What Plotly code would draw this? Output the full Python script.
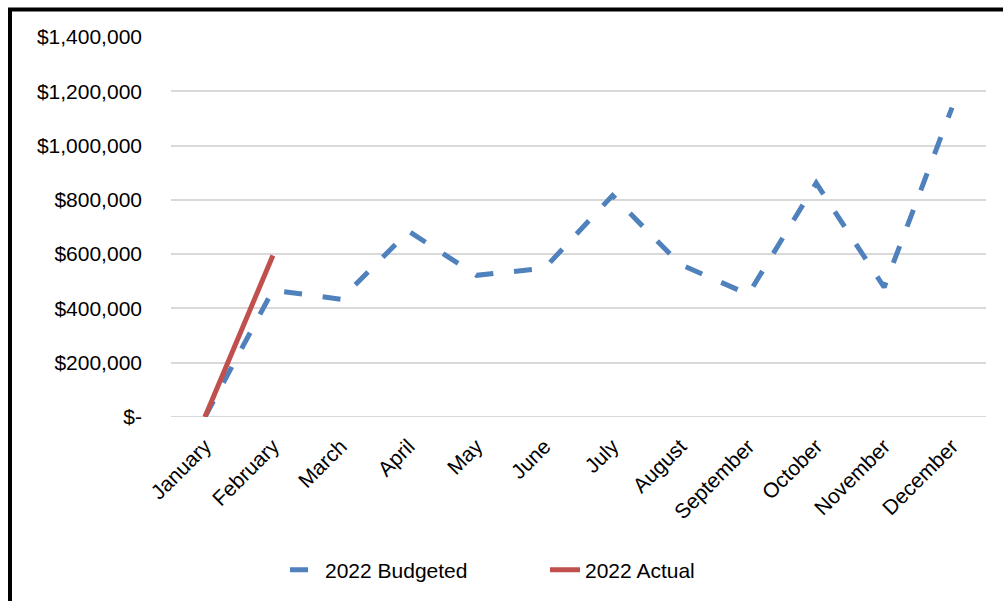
import plotly.graph_objects as go

months = ["January", "February", "March", "April", "May", "June", "July",
          "August", "September", "October", "November", "December"]
budgeted = [0, 467000, 434000, 684000, 522000, 548000, 816000,
            562000, 452000, 862000, 478000, 1140000]
actual_months = ["January", "February"]
actual = [0, 595000]

y_tickvals = [0, 200000, 400000, 600000, 800000, 1000000, 1200000, 1400000]
y_ticktext = ["$-", "$200,000", "$400,000", "$600,000", "$800,000",
              "$1,000,000", "$1,200,000", "$1,400,000"]

FONT = "Liberation Sans"
FS = 21

fig = go.Figure()
fig.add_trace(go.Scatter(
    x=months, y=budgeted, mode="lines", name="2022 Budgeted",
    line=dict(color="#4F81BD", width=5, dash="18px,20.8px"),
    cliponaxis=False,
))
fig.add_trace(go.Scatter(
    x=actual_months, y=actual, mode="lines", name="2022 Actual",
    line=dict(color="#C0504D", width=5),
    cliponaxis=False,
))

W, H = 1003, 601
L, R, T, B = 171, 17, 37, 183
pw = W - L - R
ph = H - T - B

def px2x(px):
    return (px - L) / pw

def px2y(py):
    return (H - B - py) / ph

fig.update_layout(
    width=W, height=H,
    margin=dict(l=L, r=R, t=T, b=B),
    paper_bgcolor="white", plot_bgcolor="white",
    font=dict(family=FONT, size=FS, color="black"),
    showlegend=True,
    legend=dict(orientation="h", x=px2x(545), xanchor="center",
                y=px2y(570), yanchor="middle",
                font=dict(family=FONT, size=FS, color="black"),
                entrywidth=215, entrywidthmode="pixels",
                tracegroupgap=0),
    xaxis=dict(
        type="category", categoryorder="array", categoryarray=months,
        range=[-0.5, 11.5], showgrid=False, zeroline=False, showline=False,
        tickangle=-45, ticks="", ticklabelstandoff=12,
        tickfont=dict(family=FONT, size=FS, color="black"),
    ),
    yaxis=dict(
        range=[0, 1400000], tickvals=y_tickvals, ticktext=y_ticktext,
        showgrid=True, gridcolor="#D9D9D9", gridwidth=2,
        zeroline=False, showline=False, ticks="",
        ticklabelstandoff=28,
        tickfont=dict(family=FONT, size=FS, color="black"),
    ),
    shapes=[
        dict(type="line", xref="paper", yref="paper",
             x0=px2x(10), x1=px2x(10), y0=px2y(8), y1=px2y(610),
             line=dict(color="black", width=4)),
        dict(type="line", xref="paper", yref="paper",
             x0=px2x(8), x1=px2x(1010), y0=px2y(9.5), y1=px2y(9.5),
             line=dict(color="black", width=4)),
        dict(type="line", xref="paper", yref="y",
             x0=0, x1=1, y0=0, y1=0, layer="below",
             line=dict(color="#D9D9D9", width=2)),
    ],
)

fig.write_html("out.html")
